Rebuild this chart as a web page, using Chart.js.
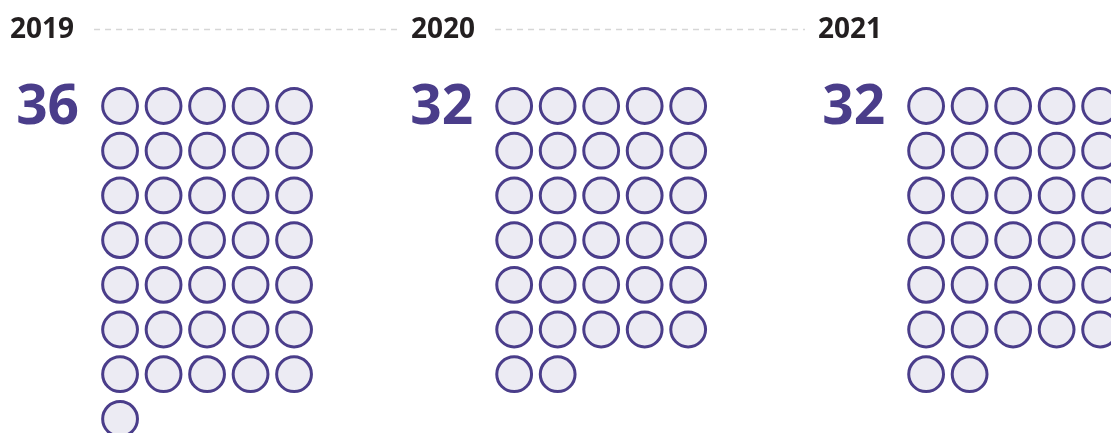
<!DOCTYPE html>
<html>
<head>
<meta charset="utf-8">
<script src="https://cdn.jsdelivr.net/npm/chart.js@4"></script>
<style>
    html, body { margin: 0; padding: 0; background: #fff; }
    #wrap { width: 1111px; height: 433px; position: relative; }
</style>
</head>
<body>
<div id="wrap"><canvas id="waffle"></canvas></div>
<script>
// data
const years = ['2019', '2020', '2021'];
const counts = [36, 32, 32];
const perRow = 5;

// layout (grid units: one column / one row per step)
const panelOrigin = [2.76, 11.82, 21.29];   // column 0 of each panel
const labelLeft = [10, 411, 818];           // px, year labels

const purple = '#4a3d8a';
const fillLight = '#ecebf3';

// one point per unit in each panel
const datasets = years.map((y, i) => {
    const pts = [];
    for (let k = 0; k < counts[i]; k++) {
        pts.push({ x: panelOrigin[i] + (k % perRow), y: Math.floor(k / perRow) });
    }
    return {
        label: y,
        data: pts,
        clip: false,
        pointRadius: 17.4,
        pointHoverRadius: 17.4,
        borderWidth: 3,
        pointBorderColor: purple,
        pointBackgroundColor: fillLight
    };
});

const headerPlugin = {
    id: 'header',
    afterDraw(chart) {
        const ctx = chart.ctx;
        const xs = chart.scales.x, ys = chart.scales.y;
        ctx.save();
        ctx.font = 'bold 28px "Open Sans"';
        ctx.textBaseline = 'middle';
        ctx.textAlign = 'left';
        const widths = years.map(y => ctx.measureText(y).width);
        years.forEach((y, i) => {
            ctx.fillStyle = '#231f20';
            ctx.fillText(y, labelLeft[i], 30);
            if (i < years.length - 1) {
                ctx.strokeStyle = '#d6d6d6';
                ctx.lineWidth = 1.4;
                ctx.setLineDash([6, 5]);
                ctx.beginPath();
                ctx.moveTo(labelLeft[i] + widths[i] + 20, 29.5);
                ctx.lineTo(labelLeft[i + 1] - 13, 29.5);
                ctx.stroke();
            }
        });
        ctx.setLineDash([]);
        ctx.font = 'bold 55px "Open Sans"';
        ctx.textAlign = 'right';
        ctx.textBaseline = 'alphabetic';
        ctx.fillStyle = purple;
        counts.forEach((c, i) => {
            const px = xs.getPixelForValue(panelOrigin[i]) - 41;
            const py = ys.getPixelForValue(0) + 18;
            ctx.fillText(String(c), px, py);
        });
        ctx.restore();
    }
};

new Chart(document.getElementById('waffle'), {
    type: 'scatter',
    data: { datasets },
    options: {
        responsive: true,
        maintainAspectRatio: false,
        animation: false,
        layout: { padding: 0, autoPadding: false },
        plugins: {
            legend: { display: false },
            tooltip: { enabled: false }
        },
        scales: {
            x: { display: false, min: 0, max: 1111 / 43.5 },
            y: { display: false, reverse: true, min: -106 / 44.7, max: (433 - 106) / 44.7 }
        }
    },
    plugins: [headerPlugin]
});
</script>
</body>
</html>
